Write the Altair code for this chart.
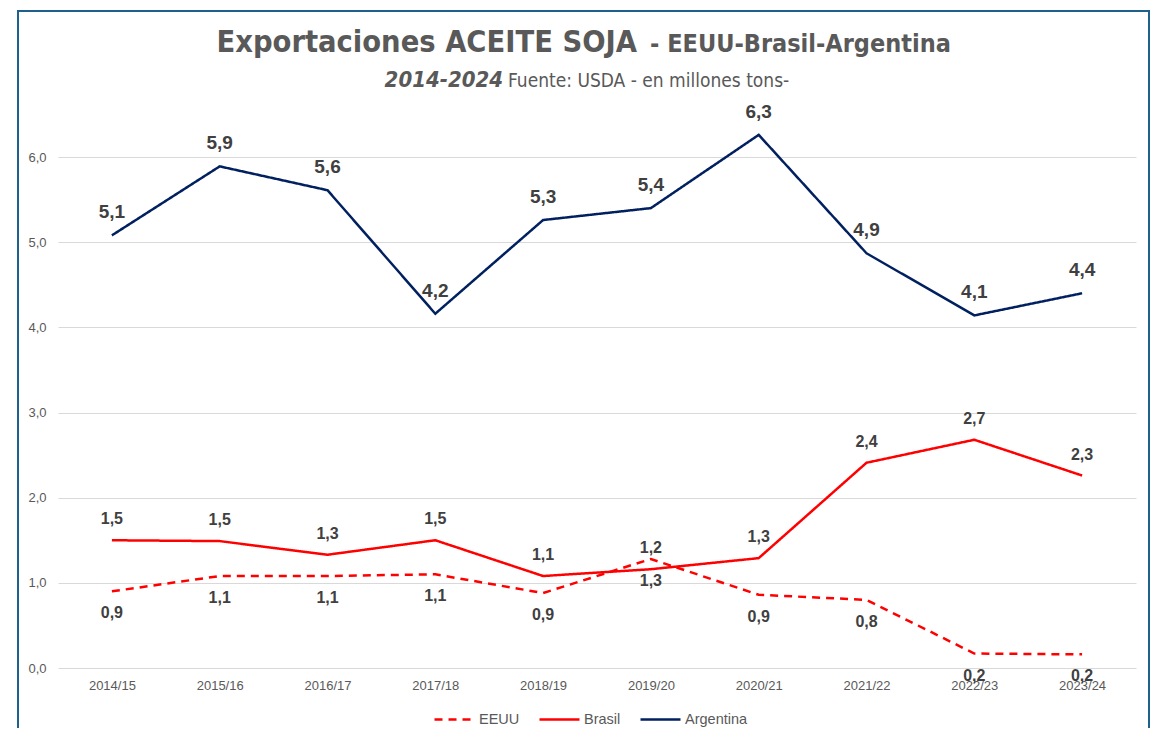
import altair as alt
import pandas as pd

years = ["2014/15", "2015/16", "2016/17", "2017/18", "2018/19",
         "2019/20", "2020/21", "2021/22", "2022/23", "2023/24"]
eeuu = [0.90, 1.08, 1.08, 1.10, 0.88, 1.28, 0.86, 0.80, 0.17, 0.16]
brasil = [1.50, 1.49, 1.33, 1.50, 1.08, 1.16, 1.29, 2.41, 2.68, 2.26]
argentina = [5.08, 5.89, 5.61, 4.16, 5.26, 5.40, 6.26, 4.87, 4.14, 4.40]
series_names = ["EEUU", "Brasil", "Argentina"]
series_colors = ["#FF0000", "#FF0000", "#002060"]
series_dash = [[8, 6], [1, 0], [1, 0]]
y_ticks = [0, 1, 2, 3, 4, 5, 6]

title_main = "Exportaciones ACEITE SOJA"
title_tail = "- EEUU-Brasil-Argentina"
sub_bold = "2014-2024"
sub_rest = "Fuente: USDA - en millones tons-"

rows = []
for name, vals in zip(series_names, [eeuu, brasil, argentina]):
    for yr, v in zip(years, vals):
        rows.append({"year": yr, "serie": name, "value": v})
df = pd.DataFrame(rows)

W, H = 1078, 511
FMT = "replace(format(datum.value, '.1f'), '.', ',')"
AXFONT = "Liberation Sans"
NARROW = "Liberation Sans Narrow, DejaVu Sans Condensed, sans-serif"

x_enc = alt.X("year:N", sort=years,
              scale=alt.Scale(type="point", padding=0.5),
              axis=alt.Axis(title=None, labelAngle=0, labelFontSize=13,
                            labelColor="#595959", labelFont=AXFONT,
                            labelPadding=11, ticks=False, domain=False,
                            grid=False))
y_enc = alt.Y("value:Q", scale=alt.Scale(domain=[0, 6], nice=False),
              axis=alt.Axis(title=None, values=y_ticks, labelExpr=FMT,
                            grid=True, gridColor="#D9D9D9", gridWidth=1,
                            ticks=False, domain=False, labelPadding=12,
                            labelFontSize=13, labelColor="#595959",
                            labelFont=AXFONT))

leg = alt.Legend(orient="none", legendX=375, legendY=541,
                 direction="horizontal", symbolType="stroke",
                 symbolSize=1600, symbolStrokeWidth=2.5,
                 labelFontSize=14.5, labelColor="#595959", labelFont=AXFONT,
                 columnPadding=14, labelOffset=3)

base = alt.Chart(df)

lines = base.mark_line(strokeWidth=2.5).encode(
    x=x_enc, y=y_enc,
    color=alt.Color("serie:N", title=None,
                    scale=alt.Scale(domain=series_names, range=series_colors),
                    legend=leg),
    strokeDash=alt.StrokeDash("serie:N", title=None,
                              scale=alt.Scale(domain=series_names,
                                              range=series_dash),
                              legend=leg),
)

label_cfg = {"EEUU": (22, 16), "Brasil": (-21, 16), "Argentina": (-23, 19)}
texts = []
for name in series_names:
    dy, fs = label_cfg[name]
    texts.append(
        base.transform_filter(alt.datum.serie == name)
        .transform_calculate(label=FMT)
        .mark_text(dy=dy, fontSize=fs, fontWeight="bold", color="#404040",
                   font=AXFONT, baseline="middle")
        .encode(x=x_enc, y=y_enc, text="label:N")
    )

one = pd.DataFrame({"t": [title_main], "t2": [title_tail],
                    "s1": [sub_bold], "s2": [sub_rest]})
tbase = alt.Chart(one)
t1 = tbase.mark_text(font=NARROW, fontSize=30.5, fontWeight="bold",
                     color="#595959", align="right",
                     baseline="alphabetic").encode(
    x=alt.value(579), y=alt.value(-105), text="t:N")
t2 = tbase.mark_text(font=NARROW, fontSize=25, fontWeight="bold",
                     color="#595959", align="left",
                     baseline="alphabetic").encode(
    x=alt.value(592), y=alt.value(-105), text="t2:N")
s1 = tbase.mark_text(font=NARROW, fontSize=22, fontWeight="bold",
                     fontStyle="italic", color="#595959", align="right",
                     baseline="alphabetic").encode(
    x=alt.value(445), y=alt.value(-70), text="s1:N")
s2 = tbase.mark_text(font=NARROW, fontSize=19, color="#595959",
                     align="left", baseline="alphabetic").encode(
    x=alt.value(450), y=alt.value(-70), text="s2:N")

frame = tbase.mark_rect(fillOpacity=0, stroke="#1F618D",
                        strokeWidth=2).encode(
    x=alt.value(-40), x2=alt.value(1091),
    y=alt.value(-146), y2=alt.value(600))

chart = alt.layer(frame, lines, *texts, t1, t2, s1, s2).properties(
    width=W, height=H,
    padding={"left": 50, "top": 149, "right": 15, "bottom": 60},
    autosize=alt.AutoSizeParams(type="none"),
).configure_view(strokeWidth=0)

chart.save("out.html", embed_options={"renderer": "svg", "actions": False})
